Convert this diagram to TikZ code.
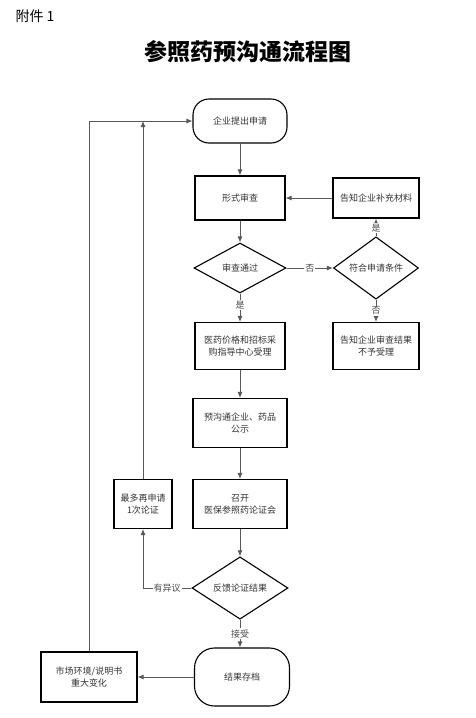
\documentclass[tikz,border=0pt]{standalone}
\usepackage{fontspec}
\newfontfamily\cjk{Noto Sans CJK SC}
\usetikzlibrary{shapes.geometric,arrows.meta}
\begin{document}
\begin{tikzpicture}[x=1pt,y=-1pt,
  every node/.style={font=\cjk\fontsize{9}{12}\selectfont, text=black!80},
  box/.style={draw=black, line width=1.1pt, rectangle, align=center, inner sep=2pt},
  stadium/.style={draw=black, line width=1.1pt, rectangle, rounded corners=16pt, align=center},
  decision/.style={draw=black, line width=1.1pt, diamond, aspect=1, inner sep=0pt, align=center},
  conn/.style={draw=black!65, line width=0.9pt, -{Latex[length=6pt,width=5pt]}},
  lab/.style={fill=white, inner sep=1pt, text=black!70}]
\useasboundingbox (0,0) rectangle (476,718);

\node[anchor=west, font=\cjk\fontsize{14}{16}\selectfont, text=black] (att) at (12,16) {附件 1};
\node[font=\cjk\bfseries\fontsize{23}{27}\selectfont, text=black] (title) at (248,52) {参照药预沟通流程图};

\node[stadium, minimum width=94pt, minimum height=44pt] (start) at (240,121) {企业提出申请};
\node[box, minimum width=90pt, minimum height=44pt] (review) at (240,198) {形式审查};
\node[box, minimum width=86pt, minimum height=40pt] (supp) at (376,198) {告知企业补充材料};
\node[decision, minimum width=92pt, minimum height=50pt] (d1) at (240,268) {审查通过};
\node[decision, minimum width=85pt, minimum height=53pt] (d2) at (376,268) {符合申请条件};
\node[box, minimum width=90pt, minimum height=47pt] (accept) at (240,346) {医药价格和招标采\\购指导中心受理};
\node[box, minimum width=86pt, minimum height=47pt] (reject) at (376,346) {告知企业审查结果\\不予受理};
\node[box, minimum width=94pt, minimum height=49pt] (pub) at (240,423) {预沟通企业、药品\\公示};
\node[box, minimum width=94pt, minimum height=49pt] (meet) at (240,504) {召开\\医保参照药论证会};
\node[box, minimum width=58pt, minimum height=49pt] (retry) at (143,504) {最多再申请\\1次论证};
\node[decision, minimum width=96pt, minimum height=58pt] (d3) at (240,588) {反馈论证结果};
\node[stadium, minimum width=95pt, minimum height=58pt, rounded corners=20pt] (arch) at (242,677) {结果存档};
\node[box, minimum width=96pt, minimum height=50pt] (change) at (89,677) {市场环境/说明书\\重大变化};

\draw[conn] (start.south) -- (review.north);
\draw[conn] (review.south) -- (d1.north);
\draw[conn] (d1.east) -- node[lab] {否} (d2.west);
\draw[conn] (d2.north) -- node[lab, pos=0.45] {是} (supp.south);
\draw[conn] (supp.west) -- (review.east);
\draw[conn] (d1.south) -- node[lab, pos=0.4] {是} (accept.north);
\draw[conn] (d2.south) -- node[lab] {否} (reject.north);
\draw[conn] (accept.south) -- (pub.north);
\draw[conn] (pub.south) -- (meet.north);
\draw[conn] (meet.south) -- (d3.north);
\draw[conn] (d3.west) -- node[lab] {有异议} (d3.west -| retry.south) -- (retry.south);
\draw[conn] (retry.north) -- (retry.north |- start.west);
\draw[conn] (d3.south) -- node[lab] {接受} (d3.south |- arch.north);
\draw[conn] (arch.west) -- (change.east);
\draw[conn] (change.north) |- (start.west);
\end{tikzpicture}
\end{document}
